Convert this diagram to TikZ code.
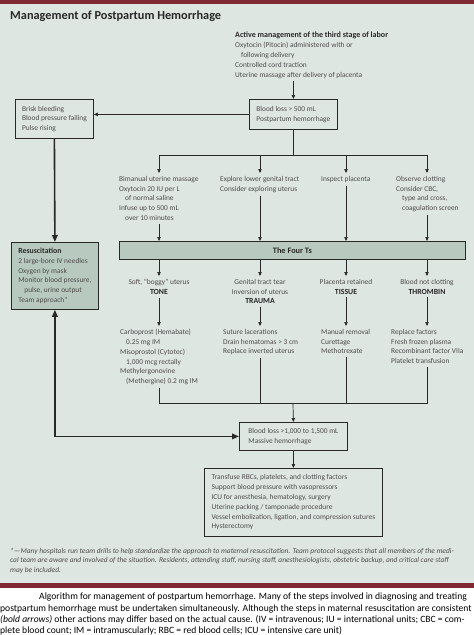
\documentclass[tikz,border=0pt]{standalone}
\usepackage{fontspec}
\setmainfont{Carlito}
\usetikzlibrary{arrows.meta,positioning}
\definecolor{pagebg}{RGB}{222,230,225}
\definecolor{boxfill}{RGB}{184,202,192}
\definecolor{barred}{RGB}{128,42,52}
\definecolor{ink}{RGB}{40,40,40}
\definecolor{txtgray}{RGB}{75,75,75}
\newcommand\headfont{\bfseries\fontsize{7.8}{9.8}\selectfont}

\begin{document}
\begin{tikzpicture}[x=1pt,y=-1pt,
    every node/.style={text=txtgray},
    font=\fontsize{7.4}{9.8}\selectfont]
  \tikzstyle{txt}=[align=left,inner xsep=0pt,inner ysep=3pt,anchor=north west]
  \tikzstyle{ctr}=[align=center,inner xsep=0pt,inner ysep=3pt,anchor=north]
  \tikzstyle{boxW}=[draw=ink,line width=0.8pt,align=left,inner xsep=0pt,anchor=north west]
  \tikzstyle{boxG}=[boxW,fill=boxfill]
  \tikzstyle{arr}=[draw=ink,line width=0.7pt,-{Triangle[length=4pt,width=3.4pt]}]
  \tikzstyle{bus}=[draw=ink,line width=0.7pt]
  \tikzstyle{boldarr}=[draw=ink,line width=1.6pt,-{Triangle[length=7pt,width=5.5pt]}]

  \useasboundingbox (0,0) rectangle (474,635);
  % page and red rules
  \fill[pagebg] (0,0) rectangle (474,585);
  \fill[barred] (0,0) rectangle (474,3.5);
  \fill[barred] (0,582.5) rectangle (474,587.5);

  \node[anchor=west,inner sep=0pt,text=ink,font=\bfseries\fontsize{12.3}{14}\selectfont]
    (title) at (10,16) {Management of Postpartum Hemorrhage};

  % top: active management and first blood loss
  \node[txt] (active) at (235,29) {\textcolor{ink}{\bfseries\fontsize{8}{9.8}\selectfont Active management of the third stage of labor}\\
    Oxytocin (Pitocin) administered with or\\\hspace*{6pt}following delivery\\
    Controlled cord traction\\Uterine massage after delivery of placenta};
  \node[boxW,minimum width=88pt,minimum height=30pt] (pph) at (249,99)
    {Blood loss > 500 mL\\Postpartum hemorrhage};
  \node[boxW,minimum width=78pt,minimum height=39pt] (brisk) at (15,99)
    {Brisk bleeding\\Blood pressure failing\\Pulse rising};
  \node[boxG,minimum width=87pt,minimum height=67pt] (resus) at (11,242)
    {\textcolor{ink}{\headfont Resuscitation}\\2 large-bore IV needles\\Oxygen by mask\\
     Monitor blood pressure,\\\hspace*{6pt}pulse, urine output\\Team approach*};

  \draw[arr] (active.south -| pph.north) -- (pph.north);
  \draw[arr] (pph.west) -- (pph.west -| brisk.east);

  % first checks
  \coordinate (hA) at (159,155);
  \coordinate (hB) at (260,155);
  \coordinate (hC) at (346,155);
  \coordinate (hD) at (427,155);
  \node[txt] (massage) at (119,173) {Bimanual uterine massage\\Oxytocin 20 IU per L\\
    \hspace*{6pt}of normal saline\\Infuse up to 500 mL\\\hspace*{6pt}over 10 minutes};
  \node[txt] (explore) at (220,173) {Explore lower genital tract\\Consider exploring uterus};
  \node[txt] (inspect) at (321,173) {Inspect placenta};
  \node[txt] (clotting) at (396,173) {Observe clotting\\Consider CBC,\\
    \hspace*{6pt}type and cross,\\\hspace*{6pt}coagulation screen};

  \draw[bus] (pph.south) -- (pph.south |- hA);
  \draw[bus] (hA) -- (hD);
  \draw[arr] (hA) -- (hA |- massage.north);
  \draw[arr] (hB) -- (hB |- explore.north);
  \draw[arr] (hC) -- (hC |- inspect.north);
  \draw[arr] (hD) -- (hD |- clotting.north);

  \node[boxG,minimum width=346pt,minimum height=18pt,align=center,text=ink,
    font=\bfseries\fontsize{8.3}{10}\selectfont] (fourts) at (119,241) {The Four Ts};

  \draw[arr] (hA |- massage.south) -- (hA |- fourts.north);
  \draw[arr] (hB |- explore.south) -- (hB |- fourts.north);
  \draw[arr] (hC |- inspect.south) -- (hC |- fourts.north);
  \draw[arr] (hD |- clotting.south) -- (hD |- fourts.north);

  % the four causes
  \node[ctr] (tone) at (159,276) {Soft, “boggy” uterus\\\textcolor{ink}{\headfont TONE}};
  \node[ctr] (trauma) at (260,276) {Genital tract tear\\Inversion of uterus\\\textcolor{ink}{\headfont TRAUMA}};
  \node[ctr] (tissue) at (346,276) {Placenta retained\\\textcolor{ink}{\headfont TISSUE}};
  \node[ctr] (thrombin) at (427,276) {Blood not clotting\\\textcolor{ink}{\headfont THROMBIN}};

  \draw[arr] (hA |- fourts.south) -- (tone.north);
  \draw[arr] (hB |- fourts.south) -- (trauma.north);
  \draw[arr] (hC |- fourts.south) -- (tissue.north);
  \draw[arr] (hD |- fourts.south) -- (thrombin.north);

  \node[txt] (tonetx) at (120,326) {Carboprost (Hemabate)\\\hspace*{6pt}0.25 mg IM\\
    Misoprostol (Cytotec)\\\hspace*{6pt}1,000 mcg rectally\\Methylergonovine\\
    \hspace*{6pt}(Methergine) 0.2 mg IM};
  \node[txt] (traumatx) at (223,326) {Suture lacerations\\Drain hematomas > 3 cm\\Replace inverted uterus};
  \node[txt] (tissuetx) at (321,326) {Manual removal\\Curettage\\Methotrexate};
  \node[txt] (thrombintx) at (391,326) {Replace factors\\Fresh frozen plasma\\
    Recombinant factor VIIa\\Platelet transfusion};

  \draw[arr] (tone.south) -- (hA |- tonetx.north);
  \draw[arr] (trauma.south) -- (hB |- traumatx.north);
  \draw[arr] (tissue.south) -- (hC |- tissuetx.north);
  \draw[arr] (thrombin.south) -- (hD |- thrombintx.north);

  % massive hemorrhage
  \coordinate (jA) at (159,403);
  \coordinate (jM) at (293,403);
  \coordinate (jD) at (427,403);
  \node[boxW,minimum width=108pt,minimum height=28pt] (massive) at (239,422)
    {Blood loss >1,000 to 1,500 mL\\Massive hemorrhage};
  \node[boxW,minimum width=178pt,minimum height=68pt] (final) at (204,468)
    {Transfuse RBCs, platelets, and clotting factors\\Support blood pressure with vasopressors\\
     ICU for anesthesia, hematology, surgery\\Uterine packing / tamponade procedure\\
     Vessel embolization, ligation, and compression sutures\\Hysterectomy};

  \draw[bus] (hA |- tonetx.south) -- (jA) -- (jD) -- (hD |- thrombintx.south);
  \draw[bus] (hB |- traumatx.south) -- (hB |- jA);
  \draw[bus] (hC |- tissuetx.south) -- (hC |- jA);
  \draw[arr] (jM) -- (massive.north);
  \draw[arr] (massive.south) -- (final.north);

  % bold arrows
  \draw[boldarr] (brisk.south) -- (resus.north);
  \draw[boldarr,{Triangle[length=7pt,width=5.5pt]}-{Triangle[length=7pt,width=5.5pt]}]
    (resus.south) |- (massive.west);

  % footnote and caption
  \node[txt,inner ysep=0pt,font=\itshape\fontsize{7.4}{9.4}\selectfont] (note) at (10,548)
    {*---Many hospitals run team drills to help standardize the approach to maternal resuscitation. Team protocol suggests that all members of the medi-\\
     cal team are aware and involved of the situation. Residents, attending staff, nursing staff, anesthesiologists, obstetric backup, and critical care staff\\
     may be included.};
  \node[txt,inner ysep=0pt,text=black,font=\fontsize{9.6}{11.2}\selectfont] (caption) at (0,593)
    {\hspace*{39pt}Algorithm for management of postpartum hemorrhage. Many of the steps involved in diagnosing and treating\\
     postpartum hemorrhage must be undertaken simultaneously. Although the steps in maternal resuscitation are consistent\\
     \textit{(bold arrows)} other actions may differ based on the actual cause. (IV = intravenous; IU = international units; CBC = com-\\
     plete blood count; IM = intramuscularly; RBC = red blood cells; ICU = intensive care unit)};
\end{tikzpicture}
\end{document}
